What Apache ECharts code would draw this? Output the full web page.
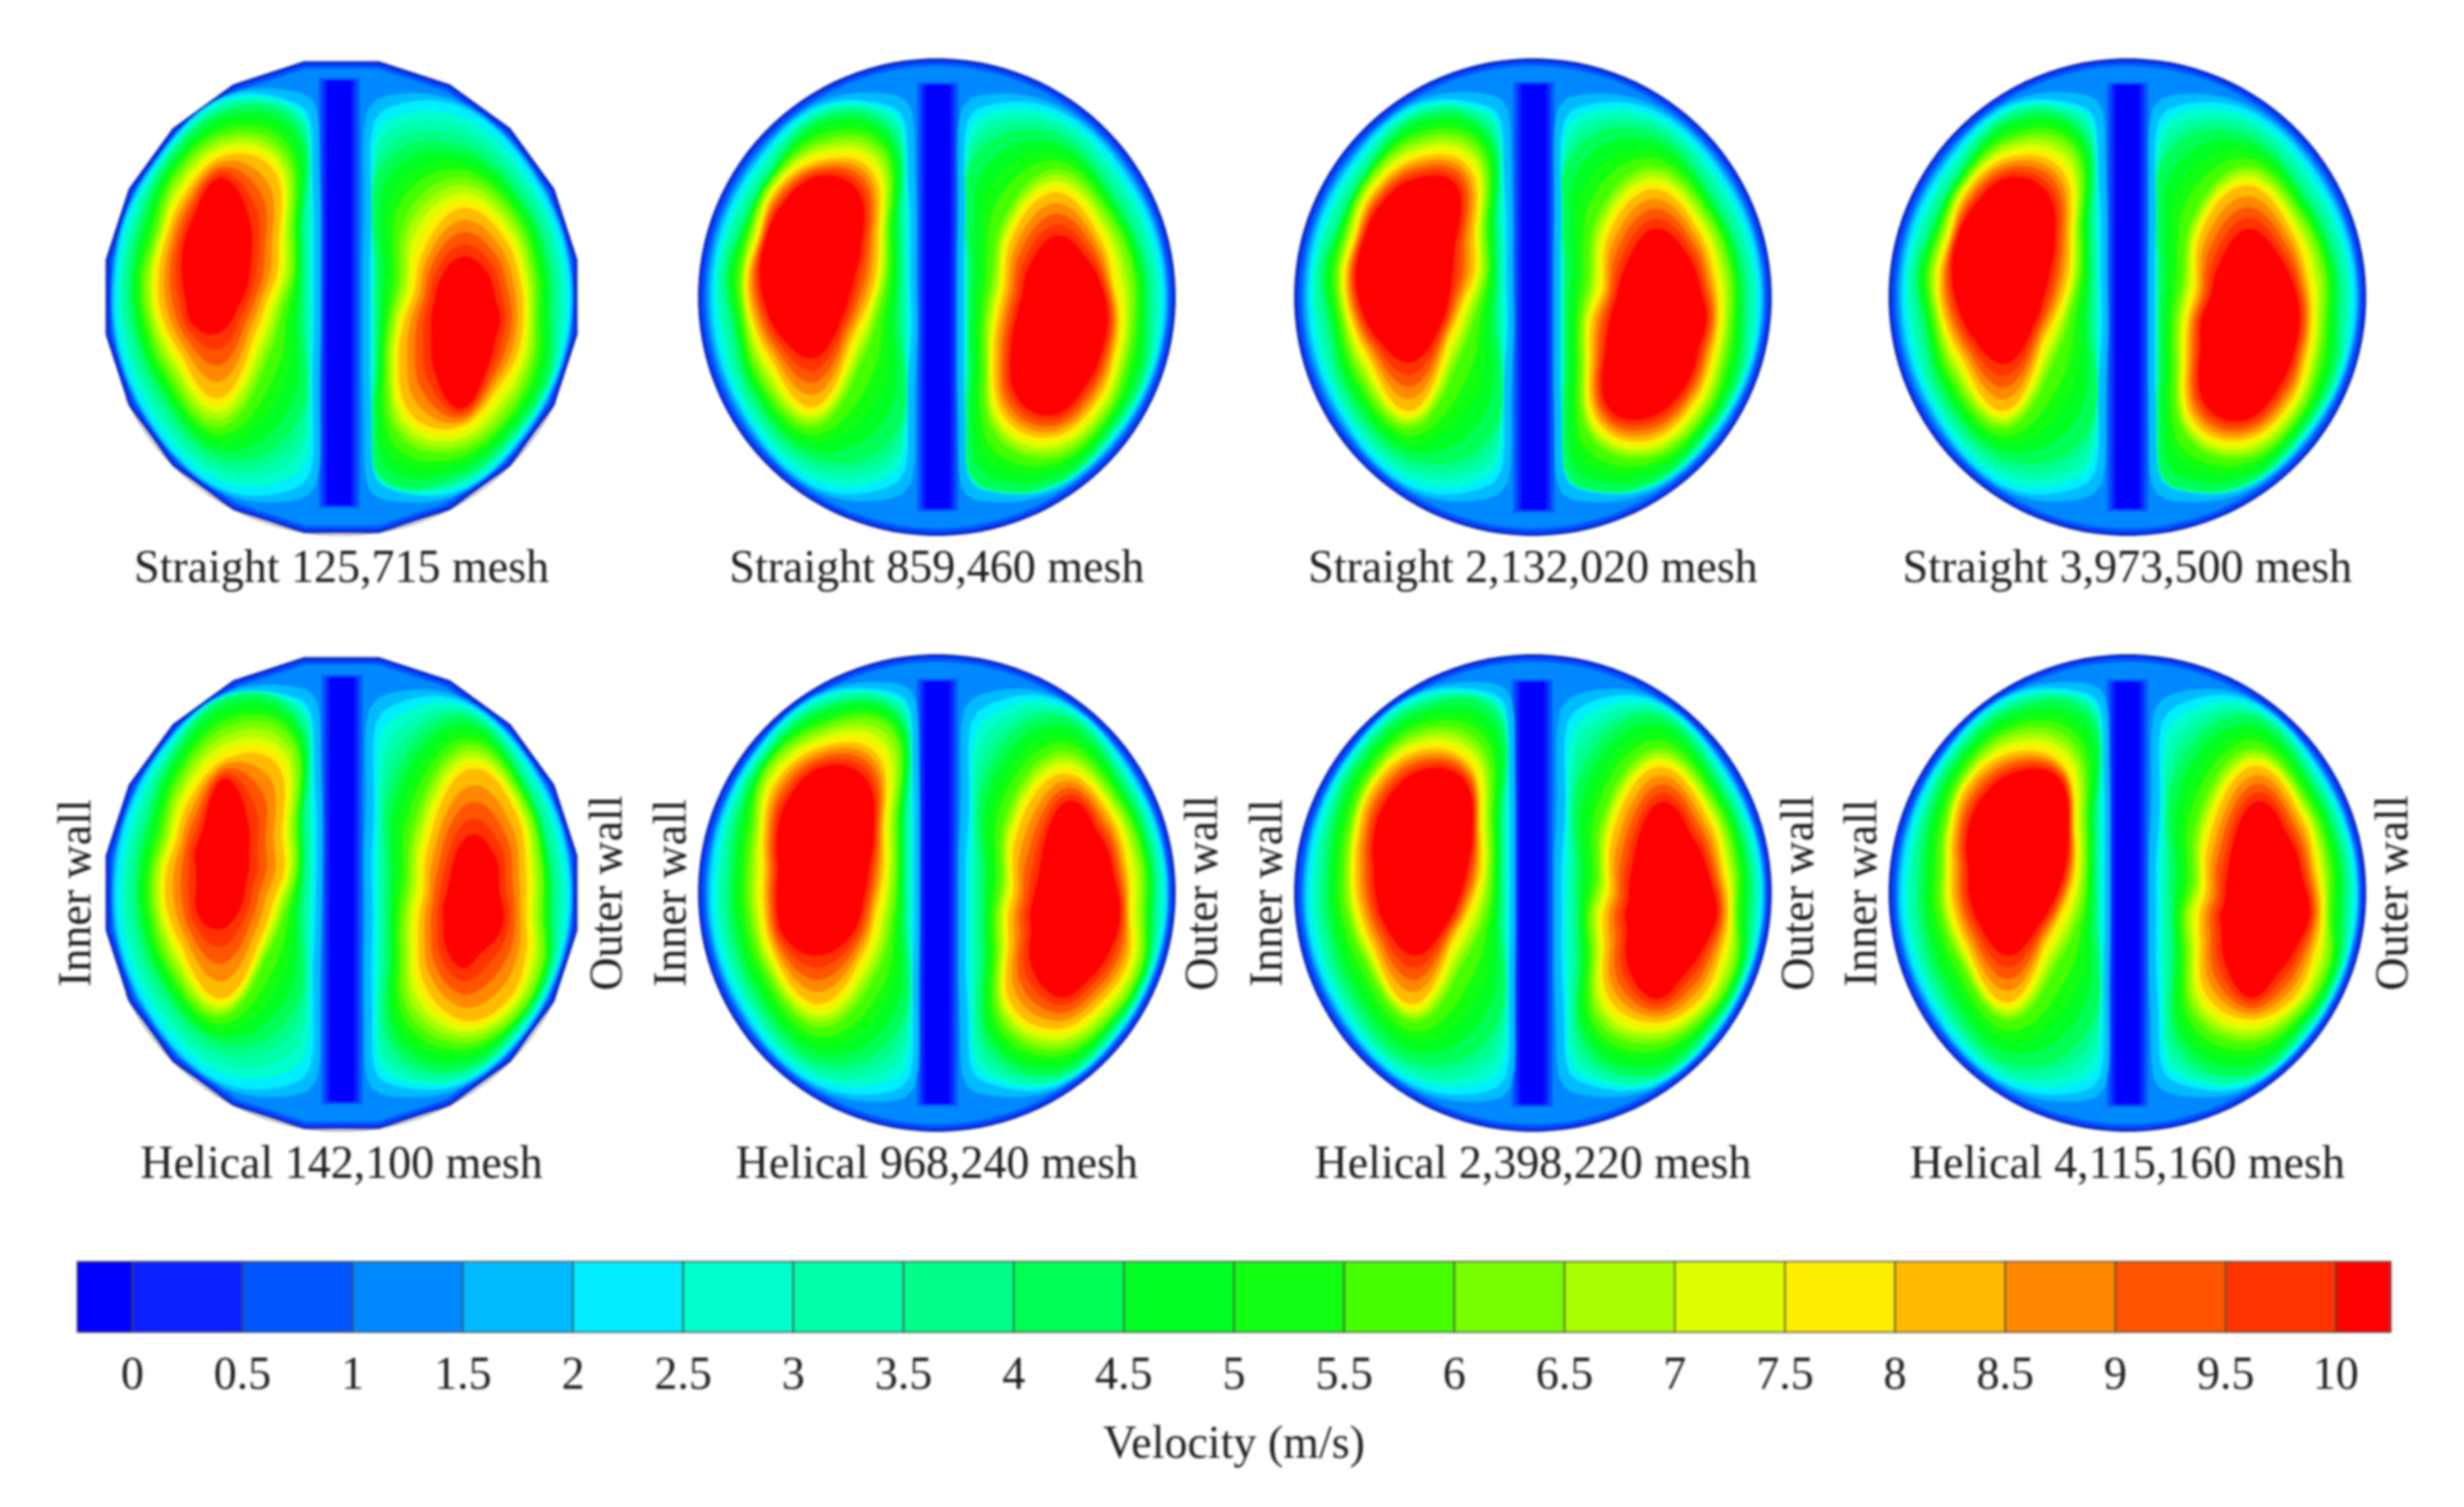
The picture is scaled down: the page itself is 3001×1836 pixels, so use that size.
<!DOCTYPE html>
<html><head><meta charset="utf-8">
<style>html,body{margin:0;padding:0;background:#fff}#main{width:3001px;height:1836px;filter:blur(1.5px)}</style>
<script src="https://cdn.jsdelivr.net/npm/echarts@6/dist/echarts.min.js"></script>
</head><body><div id="main"></div>
<script>
const panelTitles=['Straight 125,715 mesh','Straight 859,460 mesh','Straight 2,132,020 mesh','Straight 3,973,500 mesh','Helical 142,100 mesh','Helical 968,240 mesh','Helical 2,398,220 mesh','Helical 4,115,160 mesh'];
const velocityTicks=[0,0.5,1,1.5,2,2.5,3,3.5,4,4.5,5,5.5,6,6.5,7,7.5,8,8.5,9,9.5,10];
const bandColors=['#0000ff','#0a22ff','#0055ff','#0088ff','#00bbff','#00eeff','#00ffcc','#00ffaa','#00ff88','#00ff55','#00ff22','#11ff11','#44ff00','#77ff00','#aaff00','#ddff00','#ffee00','#ffbb00','#ff8800','#ff5500','#ff3300','#ff0000'];
const contourLevels=[2,4,6,8,10];
const spokeDegrees=[0,30,60,90,120,150,180,210,240,270,300,330];
const leftLobeCentre=[-0.5,0.1];
const rightLobeCentre=[0.5,-0.09];
// contour fractions: one row per contour level, one value per spoke
const straight125715Left=[
[.771,.771,.77,.96,.93,.93,.91,.92,.93,.94,.77,.77],
[.676,.672,.674,.888,.856,.797,.788,.779,.78,.807,.667,.672],
[.594,.59,.559,.757,.741,.649,.665,.657,.658,.667,.395,.507],
[.458,.472,.463,.641,.60,.55,.541,.54,.52,.54,.28,.377],
[.226,.245,.238,.526,.44,.385,.349,.33,.35,.252,.147,.208]];
const straight125715Right=[
[.925,.925,.925,.933,.763,.763,.763,.763,.763,.93,.92,.92],
[.775,.78,.788,.762,.70,.70,.70,.708,.722,.856,.858,.858],
[.638,.646,.673,.62,.477,.52,.591,.625,.545,.716,.732,.697],
[.529,.524,.538,.485,.32,.389,.469,.519,.443,.585,.549,.55],
[.337,.305,.317,.272,.181,.224,.25,.248,.232,.49,.39,.335]];
const straight859460Left=[
[.777,.778,.763,.917,.898,.892,.89,.895,.912,.934,.763,.79],
[.695,.684,.654,.847,.764,.743,.783,.74,.80,.813,.708,.684],
[.586,.59,.572,.723,.72,.66,.66,.65,.695,.665,.395,.52],
[.49,.507,.477,.616,.648,.573,.59,.579,.567,.577,.30,.425],
[.319,.366,.368,.533,.546,.514,.495,.462,.435,.363,.211,.276]];
const straight859460Right=[
[.915,.915,.915,.92,.777,.774,.774,.774,.774,.916,.915,.915],
[.784,.78,.77,.807,.73,.731,.733,.73,.735,.89,.858,.845],
[.66,.67,.673,.657,.46,.542,.597,.60,.538,.75,.755,.684],
[.534,.50,.538,.555,.38,.436,.49,.52,.456,.636,.63,.563],
[.44,.415,.394,.366,.238,.295,.338,.377,.354,.52,.49,.456]];
const straight2132020Left=[
[.78,.78,.765,.92,.90,.895,.89,.895,.91,.935,.765,.79],
[.70,.69,.66,.85,.77,.745,.78,.74,.80,.815,.71,.69],
[.613,.60,.579,.732,.72,.66,.659,.635,.67,.672,.395,.53],
[.504,.507,.49,.625,.63,.57,.577,.56,.55,.595,.30,.413],
[.327,.342,.388,.519,.53,.50,.495,.47,.44,.384,.238,.302]];
const straight2132020Right=[
[.915,.915,.915,.92,.775,.77,.77,.77,.77,.916,.915,.915],
[.785,.785,.78,.82,.73,.73,.735,.73,.735,.89,.86,.845],
[.671,.683,.692,.67,.477,.54,.60,.60,.545,.751,.767,.697],
[.56,.549,.577,.57,.38,.413,.504,.519,.477,.655,.64,.576],
[.466,.427,.433,.393,.238,.302,.354,.389,.40,.532,.515,.456]];
const straight3973500Left=[
[.78,.78,.765,.92,.90,.895,.89,.895,.91,.935,.765,.79],
[.70,.69,.66,.85,.77,.745,.78,.74,.80,.815,.71,.69],
[.60,.60,.579,.732,.71,.66,.673,.645,.68,.672,.402,.531],
[.504,.519,.477,.634,.64,.57,.577,.57,.56,.595,.307,.436],
[.349,.389,.361,.528,.53,.51,.481,.45,.43,.391,.232,.307]];
const straight3973500Right=[
[.915,.915,.915,.92,.775,.77,.77,.77,.77,.916,.915,.915],
[.785,.785,.775,.81,.73,.73,.735,.73,.735,.89,.86,.845],
[.66,.683,.683,.671,.47,.54,.597,.60,.538,.753,.767,.697],
[.55,.537,.567,.586,.395,.425,.488,.507,.47,.653,.652,.576],
[.455,.427,.413,.394,.245,.307,.379,.389,.381,.548,.515,.469]];
const helical142100Left=[
[.79,.79,.78,.95,.93,.91,.90,.91,.92,.93,.77,.78],
[.686,.68,.68,.93,.824,.738,.731,.74,.76,.767,.64,.66],
[.625,.617,.606,.77,.68,.58,.594,.608,.638,.642,.394,.537],
[.519,.499,.485,.594,.52,.45,.471,.49,.50,.564,.326,.433],
[.224,.223,.22,.495,.30,.27,.226,.23,.30,.259,.167,.197]];
const helical142100Right=[
[.92,.92,.93,.94,.74,.75,.74,.75,.76,.92,.93,.92],
[.78,.78,.83,.874,.60,.62,.62,.62,.60,.844,.87,.86],
[.688,.706,.771,.74,.41,.45,.497,.499,.455,.698,.815,.789],
[.551,.57,.675,.62,.288,.31,.346,.355,.318,.571,.688,.627],
[.369,.34,.407,.312,.114,.144,.149,.144,.136,.288,.306,.359]];
const helical968240Left=[
[.81,.81,.81,.95,.93,.91,.90,.91,.92,.94,.81,.81],
[.73,.73,.72,.88,.85,.79,.744,.76,.80,.84,.72,.73],
[.659,.657,.652,.771,.786,.63,.59,.60,.648,.69,.50,.63],
[.553,.551,.53,.663,.657,.52,.453,.47,.54,.587,.394,.499],
[.431,.473,.424,.553,.50,.40,.34,.36,.43,.376,.303,.394]];
const helical968240Right=[
[.93,.93,.93,.945,.74,.76,.76,.76,.75,.93,.935,.93],
[.83,.84,.85,.874,.625,.625,.625,.62,.60,.87,.88,.88],
[.744,.76,.761,.716,.44,.46,.505,.499,.485,.737,.815,.822],
[.622,.624,.664,.612,.348,.355,.397,.394,.40,.62,.687,.702],
[.545,.516,.536,.455,.159,.197,.222,.21,.22,.444,.509,.538]];
const helical2398220Left=[
[.81,.81,.81,.95,.93,.91,.90,.91,.92,.94,.81,.81],
[.735,.735,.725,.88,.85,.79,.75,.76,.80,.84,.72,.73],
[.654,.649,.586,.75,.71,.63,.59,.59,.60,.665,.436,.613],
[.559,.554,.49,.643,.63,.54,.495,.485,.50,.588,.334,.483],
[.45,.495,.429,.528,.48,.40,.343,.34,.36,.377,.272,.389]];
const helical2398220Right=[
[.93,.93,.93,.945,.74,.76,.76,.76,.75,.93,.935,.93],
[.83,.84,.85,.88,.63,.63,.63,.62,.60,.87,.88,.88],
[.715,.732,.76,.727,.436,.46,.529,.507,.484,.70,.80,.804],
[.647,.622,.663,.642,.347,.354,.406,.40,.381,.585,.686,.657],
[.551,.512,.51,.47,.184,.20,.229,.212,.218,.454,.48,.509]];
const helical4115160Left=[
[.81,.81,.81,.95,.93,.91,.90,.91,.92,.94,.81,.81],
[.73,.73,.72,.875,.845,.79,.75,.76,.80,.845,.72,.73],
[.654,.649,.586,.75,.72,.63,.577,.59,.60,.658,.436,.613],
[.559,.554,.484,.634,.64,.54,.481,.485,.50,.581,.334,.483],
[.477,.507,.436,.519,.49,.41,.343,.345,.36,.377,.266,.40]];
const helical4115160Right=[
[.93,.93,.93,.945,.74,.76,.76,.76,.75,.93,.935,.93],
[.83,.84,.85,.875,.63,.63,.63,.62,.60,.87,.88,.88],
[.701,.72,.75,.727,.429,.45,.529,.507,.463,.69,.789,.791],
[.633,.61,.663,.642,.327,.342,.392,.389,.361,.567,.675,.643],
[.537,.50,.519,.464,.17,.184,.223,.212,.198,.445,.469,.496]];
const stripeSpans=[[-.01,.91,-.875],[.004,.892,-.89],[.004,.894,-.894],[.001,.892,-.89],[.002,.906,-.878],[.002,.89,-.885],[-.003,.887,-.887],[0,.887,-.887]];
const panelCentresX=[416,1141,1867,2591,416,1141,1867,2591];
const panelCentresY=[362,362,362,362,1088,1088,1088,1088];
const panelFacets=[20,0,0,0,20,0,0,0];
const panelLobes=[[straight125715Left,straight125715Right],[straight859460Left,straight859460Right],[straight2132020Left,straight2132020Right],[straight3973500Left,straight3973500Right],[helical142100Left,helical142100Right],[helical968240Left,helical968240Right],[helical2398220Left,helical2398220Right],[helical4115160Left,helical4115160Right]];
const RADIUS=290, FONT='Liberation Serif', FS=56, TEXT='#1c1c1c';

function rayLimit(c,dx,dy,hard){
  const b=c[0]*dx+c[1]*dy, q=c[0]*c[0]+c[1]*c[1]-1;
  const r1=-b+Math.sqrt(b*b-q);
  if(dx*c[0]>=-1e-9) return r1;
  const r2=-c[0]/dx, p=12;
  if(hard) return Math.min(r1,r2);
  return Math.pow(Math.pow(r1,-p)+Math.pow(r2,-p),-1/p);
}
function periodic(row,deg){
  const n=row.length, u=((deg%360)+360)%360/(360/n), i=Math.floor(u), t=u-i;
  const a=row[(i-1+n)%n],b=row[i%n],c=row[(i+1)%n],d=row[(i+2)%n];
  return 0.5*(2*b+(c-a)*t+(2*a-5*b+4*c-d)*t*t+(3*b-a-3*c+d)*t*t*t);
}
function lobeInverseRadii(c,table){
  const reach=spokeDegrees.map(d=>{const a=d*Math.PI/180;return rayLimit(c,Math.cos(a),Math.sin(a),true);});
  return table.map(row=>row.map((f,s)=>1/(f*reach[s])));
}
function contour(c,table,inverse,v){
  const pts=[];
  for(let deg=0;deg<360;deg+=3){
    const a=deg*Math.PI/180,dx=Math.cos(a),dy=Math.sin(a);
    const R=rayLimit(c,dx,dy,false);
    let lo=0,rlo=R,r=R;
    for(let k=0;k<contourLevels.length;k++){
      const lv=contourLevels[k];
      let rk=k===0?periodic(table[0],deg)*R:1/periodic(inverse[k],deg);
      rk=Math.min(rk,rlo*0.985);
      if(v<=lv){r=rlo+(rk-rlo)*(v-lo)/(lv-lo);break;}
      lo=lv;rlo=rk;r=rk;
    }
    pts.push([c[0]+r*dx,c[1]+r*dy]);
  }
  return pts;
}
function disc(rho,facets){
  const pts=[],n=facets||120;
  for(let k=0;k<n;k++){
    const a=(k+0.5)*2*Math.PI/n+Math.PI/2;
    pts.push([rho*Math.cos(a),rho*Math.sin(a)]);
  }
  return pts;
}
function lowerArc(){
  const pts=[];
  for(let d=205;d<=335;d+=3){const a=d*Math.PI/180;pts.push([Math.cos(a),Math.sin(a)]);}
  return pts;
}
function buildLayers(i){
  const L=[],facets=panelFacets[i],s=stripeSpans[i];
  if(facets) L.push({line:true,points:lowerArc(),stroke:'#b5b5b5',lw:2});
  L.push({points:disc(1,facets),fill:bandColors[1],stroke:'#12348f',lw:2});
  L.push({points:disc(.988,facets),fill:bandColors[2]});
  L.push({points:disc(.972,facets),fill:bandColors[3]});
  [[.085,2,.01],[.068,1,0],[.052,0,0]].forEach(h=>{
    const w=h[0],top=s[1]+h[2],bot=s[2]-h[2];
    L.push({points:[[s[0]-w,top],[s[0]+w,top],[s[0]+w,bot],[s[0]-w,bot]],fill:bandColors[h[1]]});
  });
  [[leftLobeCentre,0],[rightLobeCentre,1]].forEach(o=>{
    const table=panelLobes[i][o[1]],inverse=lobeInverseRadii(o[0],table);
    velocityTicks.forEach((v,k)=>{
      if(v<1.5) return;
      L.push({points:contour(o[0],table,inverse,v),fill:bandColors[k+1]});
    });
  });
  return L;
}
const grids=[],xAxes=[],yAxes=[],series=[];
const hiddenParts={axisLine:{show:false},axisTick:{show:false},axisLabel:{show:false},splitLine:{show:false}};
const nameText={fontFamily:FONT,fontSize:FS,color:TEXT};
panelTitles.forEach((title,i)=>{
  grids.push({left:panelCentresX[i]-RADIUS,top:panelCentresY[i]-RADIUS,width:2*RADIUS,height:2*RADIUS});
  xAxes.push({gridIndex:i,type:'value',min:-1,max:1,interval:1,name:title,nameLocation:'middle',nameGap:14,nameTextStyle:nameText,...hiddenParts});
  yAxes.push({gridIndex:i,type:'value',min:-1,max:1,interval:1,position:'left',name:i<4?'':'Inner wall',nameLocation:'middle',nameRotate:90,nameGap:3,nameTextStyle:nameText,...hiddenParts});
  yAxes.push({gridIndex:i,type:'value',min:-1,max:1,interval:1,position:'right',name:i<4?'':'Outer wall',nameLocation:'middle',nameRotate:90,nameGap:8,nameTextStyle:nameText,...hiddenParts});
  const layers=buildLayers(i);
  series.push({type:'custom',xAxisIndex:i,yAxisIndex:2*i,coordinateSystem:'cartesian2d',clip:false,silent:true,animation:false,
    data:layers.map((l,k)=>[k]),encode:{x:[],y:[]},
    renderItem:function(p,api){
      const l=layers[api.value(0)];
      const pts=l.points.map(q=>api.coord(q));
      if(l.line) return {type:'polyline',shape:{points:pts},style:{fill:null,stroke:l.stroke,lineWidth:l.lw}};
      return {type:'polygon',shape:{points:pts},style:{fill:l.fill,stroke:l.stroke||null,lineWidth:l.lw||0}};
    }});
});
const barEdges=[-0.25].concat(velocityTicks,[10.25]);
const barCells=barEdges.slice(0,-1).map((e,k)=>[e,barEdges[k+1],k]);
grids.push({left:27,top:1537,width:2952,height:86});
xAxes.push({gridIndex:8,type:'value',min:-0.5,max:10.5,interval:0.5,name:'Velocity (m/s)',nameLocation:'middle',nameGap:110,nameTextStyle:nameText,
  axisLine:{show:false},axisTick:{show:false},splitLine:{show:false},
  axisLabel:{show:true,margin:26,fontFamily:FONT,fontSize:FS,color:TEXT,showMinLabel:false,showMaxLabel:false,hideOverlap:false,formatter:function(v){return (v<0||v>10)?'':String(v);}}});
yAxes.push({gridIndex:8,type:'value',min:0,max:1,interval:1,...hiddenParts});
series.push({type:'custom',xAxisIndex:8,yAxisIndex:16,coordinateSystem:'cartesian2d',silent:true,animation:false,clip:false,data:barCells,encode:{x:[0,1]},
  renderItem:function(p,api){
    const a=api.coord([api.value(0),1]),b=api.coord([api.value(1),0]);
    return {type:'rect',shape:{x:a[0],y:a[1],width:b[0]-a[0],height:b[1]-a[1]},style:{fill:bandColors[api.value(2)],stroke:'#4a4a4a',lineWidth:1.5}};
  }});
const chart=echarts.init(document.getElementById('main'),null,{renderer:'canvas',width:3001,height:1836});
chart.setOption({animation:false,backgroundColor:'#ffffff',grid:grids,xAxis:xAxes,yAxis:yAxes,series:series});
</script></body></html>
